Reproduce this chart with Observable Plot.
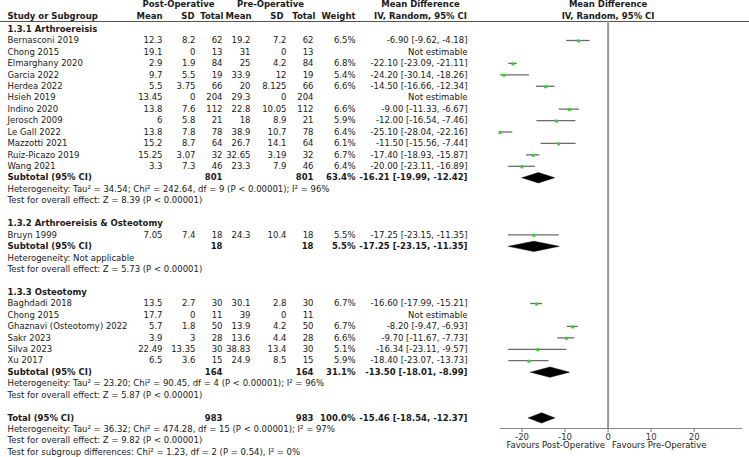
<!DOCTYPE html>
<html><head><meta charset="utf-8">
<script src="https://cdn.jsdelivr.net/npm/d3@7"></script>
<script src="https://cdn.jsdelivr.net/npm/@observablehq/plot@0.6"></script>
<style>body{margin:0;background:#fff;} svg{overflow:visible;}</style>
</head><body><div id="chart"></div>
<script>
// ---------- data ----------
const groupNames = ["1.3.1 Arthroereisis", "1.3.2 Arthroereisis & Osteotomy", "1.3.3 Osteotomy"];
const studies = ["Bernasconi 2019","Chong 2015","Elmarghany 2020","Garcia 2022","Herdea 2022","Hsieh 2019","Indino 2020","Jerosch 2009","Le Gall 2022","Mazzotti 2021","Ruiz-Picazo 2019","Wang 2021",
  "Bruyn 1999",
  "Baghdadi 2018","Chong 2015","Ghaznavi (Osteotomy) 2022","Sakr 2023","Silva 2023","Xu 2017"];
const studyGroup = [0,0,0,0,0,0,0,0,0,0,0,0, 1, 2,2,2,2,2,2];
const postMean = [12.3,19.1,2.9,9.7,5.5,13.45,13.8,6,13.8,15.2,15.25,3.3, 7.05, 13.5,17.7,5.7,3.9,22.49,6.5];
const postSD   = [8.2,0,1.9,5.5,3.75,0,7.6,5.8,7.8,8.7,3.07,7.3, 7.4, 2.7,0,1.8,3,13.35,3.6];
const postN    = [62,13,84,19,66,204,112,21,78,64,32,46, 18, 30,11,50,28,30,15];
const preMean  = [19.2,31,25,33.9,20,29.3,22.8,18,38.9,26.7,32.65,23.3, 24.3, 30.1,39,13.9,13.6,38.83,24.9];
const preSD    = [7.2,0,4.2,12,8.125,0,10.05,8.9,10.7,14.1,3.19,7.9, 10.4, 2.8,0,4.2,4.4,13.4,8.5];
const preN     = [62,13,84,19,66,204,112,21,78,64,32,46, 18, 30,11,50,28,30,15];
const weight   = [6.5,null,6.8,5.4,6.6,null,6.6,5.9,6.4,6.1,6.7,6.4, 5.5, 6.7,null,6.7,6.6,5.1,5.9];
const md       = [-6.90,null,-22.10,-24.20,-14.50,null,-9.00,-12.00,-25.10,-11.50,-17.40,-20.00, -17.25, -16.60,null,-8.20,-9.70,-16.34,-18.40];
const ciLo     = [-9.62,null,-23.09,-30.14,-16.66,null,-11.33,-16.54,-28.04,-15.56,-18.93,-23.11, -23.15, -17.99,null,-9.47,-11.67,-23.11,-23.07];
const ciHi     = [-4.18,null,-21.11,-18.26,-12.34,null,-6.67,-7.46,-22.16,-7.44,-15.87,-16.89, -11.35, -15.21,null,-6.93,-7.73,-9.57,-13.73];

const subN      = [801, 18, 164];
const subWeight = [63.4, 5.5, 31.1];
const subMD     = [-16.21, -17.25, -13.50];
const subLo     = [-19.99, -23.15, -18.01];
const subHi     = [-12.42, -11.35, -8.99];
const subHet = [
  "Heterogeneity: Tau² = 34.54; Chi² = 242.64, df = 9 (P < 0.00001); I² = 96%",
  "Heterogeneity: Not applicable",
  "Heterogeneity: Tau² = 23.20; Chi² = 90.45, df = 4 (P < 0.00001); I² = 96%"];
const subZ = [
  "Test for overall effect: Z = 8.39 (P < 0.00001)",
  "Test for overall effect: Z = 5.73 (P < 0.00001)",
  "Test for overall effect: Z = 5.87 (P < 0.00001)"];

const totalN = 983, totalWeight = 100.0, totalMD = -15.46, totalLo = -18.54, totalHi = -12.37;
const totalNotes = [
  "Heterogeneity: Tau² = 36.32; Chi² = 474.28, df = 15 (P < 0.00001); I² = 97%",
  "Test for overall effect: Z = 9.82 (P < 0.00001)",
  "Test for subgroup differences: Chi² = 1.23, df = 2 (P = 0.54), I² = 0%"];

const xTicks = [-20, -10, 0, 10, 20];
const favourLeft = "Favours Post-Operative", favourRight = "Favours Pre-Operative";

// ---------- layout ----------
const W = 749, H = 457, ML = 500, MR = 8, MT = 21, MB = 29;
const yDomain = [3, 39], yRange = [40, 451.7];
const rowAtPx = px => yDomain[0] + (px - yRange[0]) * (yDomain[1] - yDomain[0]) / (yRange[1] - yRange[0]);
const xDomain = [-25, 31];
const xAtPx = px => xDomain[0] + (px - ML) * (xDomain[1] - xDomain[0]) / (W - MR - ML);
const col = {study: 7, postMean: 162, postSD: 195, postN: 222, preMean: 250, preSD: 286, preN: 313, weight: 355, ci: 467, ciHead: 420};

const fmtCI = (m, l, h) => `${m.toFixed(2)} [${l.toFixed(2)}, ${h.toFixed(2)}]`;

// ---------- build rows ----------
const rows = [];
let r = 2;
groupNames.forEach((g, gi) => {
  rows.push({r: r++, kind: "group", label: g});
  studies.forEach((s, i) => {
    if (studyGroup[i] !== gi) return;
    rows.push({r: r++, kind: "study", label: s,
      postMean: String(postMean[i]), postSD: String(postSD[i]), postN: String(postN[i]),
      preMean: String(preMean[i]), preSD: String(preSD[i]), preN: String(preN[i]),
      weight: weight[i] == null ? "" : weight[i].toFixed(1) + "%",
      ci: md[i] == null ? "Not estimable" : fmtCI(md[i], ciLo[i], ciHi[i]),
      md: md[i], lo: ciLo[i], hi: ciHi[i]});
  });
  rows.push({r: r++, kind: "sub", label: "Subtotal (95% CI)", postN: String(subN[gi]), preN: String(subN[gi]),
    weight: subWeight[gi].toFixed(1) + "%", ci: fmtCI(subMD[gi], subLo[gi], subHi[gi]),
    md: subMD[gi], lo: subLo[gi], hi: subHi[gi]});
  rows.push({r: r++, kind: "note", label: subHet[gi]});
  rows.push({r: r++, kind: "note", label: subZ[gi]});
  r++; // blank
});
rows.push({r: r++, kind: "sub", label: "Total (95% CI)", postN: String(totalN), preN: String(totalN),
  weight: totalWeight.toFixed(1) + "%", ci: fmtCI(totalMD, totalLo, totalHi), md: totalMD, lo: totalLo, hi: totalHi});
totalNotes.forEach(t => rows.push({r: r++, kind: "note", label: t}));

const studyRows = rows.filter(d => d.kind === "study");
const subRows = rows.filter(d => d.kind === "sub");
const estRows = studyRows.filter(d => d.md != null);
const boldRows = rows.filter(d => d.kind === "group" || d.kind === "sub");
const plainRows = rows.filter(d => d.kind === "study" || d.kind === "note");

const halfH = 0.45;
const diamonds = subRows.flatMap((d, i) => [
  {id: i, x: d.lo, y: d.r}, {id: i, x: d.md, y: d.r - halfH},
  {id: i, x: d.hi, y: d.r}, {id: i, x: d.md, y: d.r + halfH}, {id: i, x: d.lo, y: d.r}]);

const header0 = [
  {label: "Post-Operative", x: 178}, {label: "Pre-Operative", x: 270}, {label: "Mean Difference", x: col.ciHead}];
const header1 = [
  {label: "Mean", x: col.postMean, a: "end"}, {label: "SD", x: col.postSD - 1, a: "end"}, {label: "Total", x: col.postN + 1, a: "end"},
  {label: "Mean", x: col.preMean + 1, a: "end"}, {label: "SD", x: col.preSD - 3, a: "end"}, {label: "Total", x: col.preN + 2, a: "end"},
  {label: "Weight", x: col.weight, a: "end"}, {label: "IV, Random, 95% CI", x: col.ciHead, a: "middle"}];

const INK = "#1a1a1a";
const textCol = (data, key, anchor, weightF) => Plot.text(data.filter(d => d[key] != null), {
  y: "r", text: key, frameAnchor: "left", dx: col[key === "label" ? "study" : key] - ML,
  textAnchor: anchor, fontWeight: weightF, fill: INK});

const marks = [
  // table header
  Plot.ruleY([rowAtPx(MT)], {x1: xAtPx(0), x2: xAtPx(W), stroke: "#555", strokeWidth: 1}),
  ...header0.map(h => Plot.text([h], {y: () => 0, text: "label", frameAnchor: "left", dx: h.x - ML, textAnchor: "middle", fontWeight: "bold", dy: -1.5, fill: INK})),
  Plot.text(["Study or Subgroup"], {y: () => 1, text: d => d, frameAnchor: "left", dx: col.study - ML, textAnchor: "start", fontWeight: "bold", dy: -1.5, fill: INK}),
  ...header1.map(h => Plot.text([h], {y: () => 1, text: "label", frameAnchor: "left", dx: h.x - ML, textAnchor: h.a, fontWeight: "bold", dy: -1.5, fill: INK})),
  Plot.text(["Mean Difference"], {x: () => 0, y: () => 0, text: d => d, fontWeight: "bold", dy: -1.5, fill: INK}),
  Plot.text(["IV, Random, 95% CI"], {x: () => 0, y: () => 1, text: d => d, fontWeight: "bold", dy: -1.5, fill: INK}),
  // table body
  textCol(boldRows, "label", "start", "bold"),
  textCol(plainRows, "label", "start", "normal"),
  ...["postMean", "postSD", "postN", "preMean", "preSD", "preN", "weight", "ci"].flatMap(k => [
    textCol(studyRows, k, "end", "normal"),
    textCol(subRows, k, "end", "bold")]),
  // forest plot
  Plot.ruleX([0], {stroke: "#999", strokeWidth: 2}),
  Plot.frame({anchor: "bottom", stroke: "#888"}),
  Plot.axisX({ticks: xTicks, tickSize: 4, tickPadding: 1, tickFormat: d => String(d), stroke: "#777", fill: "#333", label: null}),
  Plot.ruleY(estRows, {y: "r", x1: "lo", x2: "hi", stroke: "#6a6a6a", strokeWidth: 1.3, clip: true}),
  Plot.dot(estRows, {x: "md", y: "r", symbol: "square", r: 1.7, fill: "#2bd42b", stroke: null, dy: 0.5}),
  Plot.line(diamonds, {x: "x", y: "y", z: "id", fill: "black", stroke: "black", strokeWidth: 0.5, curve: "linear"}),
  Plot.text([favourLeft], {x: () => 0, y: () => rowAtPx(445), text: d => d, textAnchor: "end", dx: -3, fill: INK}),
  Plot.text([favourRight], {x: () => 0, y: () => rowAtPx(445), text: d => d, textAnchor: "start", dx: 4, fill: INK})
];

const chart = Plot.plot({
  width: W, height: H,
  marginLeft: ML, marginRight: MR, marginTop: MT, marginBottom: MB,
  x: {domain: xDomain},
  y: {domain: yDomain, range: yRange, axis: null},
  style: {fontFamily: "DejaVu Sans", fontSize: "8.5px", background: "white", color: INK},
  marks
});
document.getElementById("chart").appendChild(chart);
</script>
</body></html>
